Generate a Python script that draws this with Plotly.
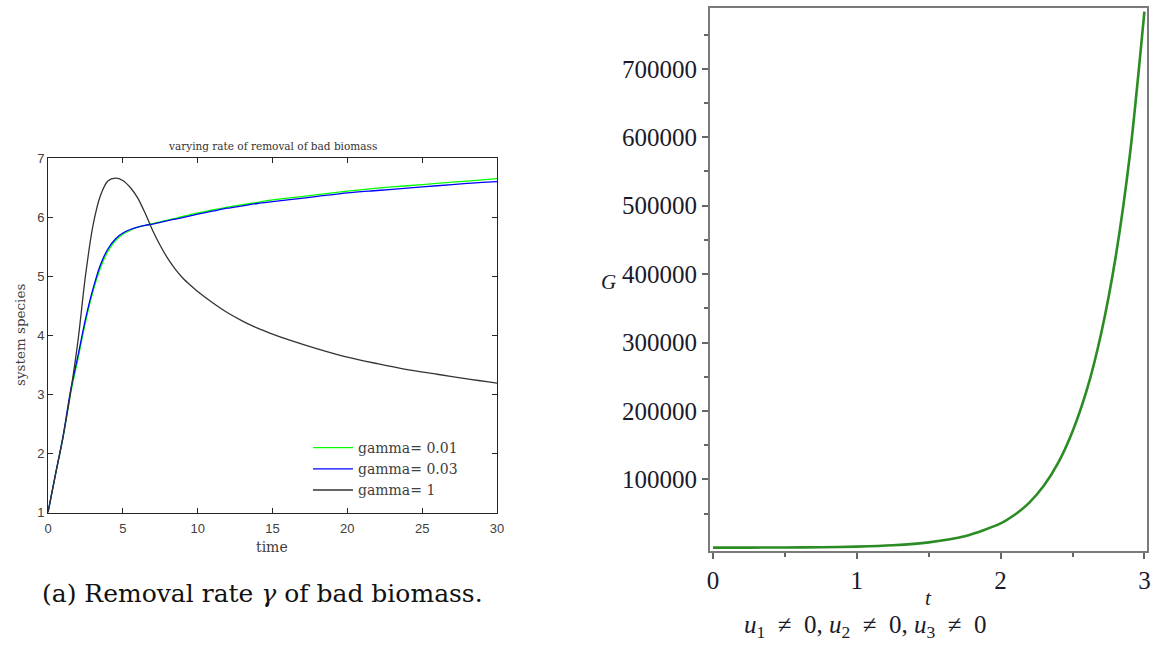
import plotly.graph_objects as go

W, H = 1153, 646

# ---------------- left panel data ----------------
t_left = [0, 0.5, 1, 1.5, 2, 2.5, 3, 3.5, 4, 4.5, 5, 5.5, 6, 6.5, 7, 7.5, 8, 8.5, 9,
          9.5, 10, 11, 12, 13, 14, 15, 16, 18, 20, 22, 24, 26, 28, 30]
gamma_001 = [1.0, 1.64, 2.26, 3.0, 3.6, 4.22, 4.74, 5.14, 5.42, 5.6, 5.71, 5.78, 5.83,
             5.86, 5.89, 5.92, 5.95, 5.98, 6.01, 6.04, 6.07, 6.12, 6.17, 6.21, 6.25,
             6.29, 6.32, 6.38, 6.44, 6.49, 6.53, 6.57, 6.61, 6.65]
gamma_003 = [1.0, 1.65, 2.28, 3.05, 3.65, 4.27, 4.78, 5.19, 5.46, 5.63, 5.73, 5.79, 5.83,
             5.86, 5.88, 5.91, 5.94, 5.965, 5.99, 6.02, 6.05, 6.1, 6.15, 6.19, 6.23,
             6.26, 6.29, 6.35, 6.41, 6.45, 6.49, 6.53, 6.57, 6.6]
gamma_1 = [1.0, 1.64, 2.27, 3.02, 3.9, 5.0, 5.85, 6.36, 6.61, 6.66, 6.62, 6.5, 6.32,
           6.06, 5.77, 5.52, 5.3, 5.12, 4.97, 4.85, 4.74, 4.55, 4.38, 4.24, 4.12, 4.02,
           3.93, 3.77, 3.63, 3.52, 3.42, 3.34, 3.26, 3.19]
legend_names = ["gamma= 0.01", "gamma= 0.03", "gamma= 1"]
left_xticks = [0, 5, 10, 15, 20, 25, 30]
left_yticks = [1, 2, 3, 4, 5, 6, 7]

# ---------------- right panel data ----------------
t_right = [0, 0.25, 0.5, 0.75, 1.0, 1.25, 1.5, 1.75, 2.0, 2.1, 2.2, 2.3, 2.4, 2.5,
           2.6, 2.7, 2.8, 2.9, 3.0]
G_vals = [80, 160, 350, 760, 1650, 3600, 7800, 16700, 35500, 48500, 66000, 90500,
          124000, 170000, 231000, 314000, 425000, 576000, 783600]
right_xticks = [0, 1, 2, 3]
right_xminor = [0.5, 1.5, 2.5]
right_yticks = [100000, 200000, 300000, 400000, 500000, 600000, 700000]
right_yminor = [50000, 150000, 250000, 350000, 450000, 550000, 650000, 750000]


def px(x):
    return x / W


def py(y):
    return 1 - y / H


fig = go.Figure()

left_colors = ["#00ff00", "#0000ff", "#333333"]
for name, vals, col in zip(legend_names, [gamma_001, gamma_003, gamma_1], left_colors):
    fig.add_trace(go.Scatter(x=t_left, y=vals, mode="lines", name=name,
                             line=dict(color=col, width=1.3, shape="spline", smoothing=0.8),
                             xaxis="x", yaxis="y", showlegend=True))

fig.add_trace(go.Scatter(x=t_right, y=G_vals, mode="lines", name="G",
                         line=dict(color="#2a8c22", width=2.6, shape="spline", smoothing=0.8),
                         xaxis="x2", yaxis="y2", showlegend=False))

serif = "DejaVu Serif"
tserif = "Liberation Serif"

fig.update_layout(
    width=W, height=H, autosize=False,
    margin=dict(l=0, r=0, t=0, b=0, pad=0, autoexpand=False),
    paper_bgcolor="white", plot_bgcolor="white",
    xaxis=dict(domain=[px(48), px(497)], range=[0, 30], tickvals=left_xticks,
               showgrid=False, zeroline=False, showline=True, linecolor="#262626",
               linewidth=1, mirror="ticks", ticks="inside", ticklen=5,
               tickcolor="#262626", tickwidth=1, automargin=False,
               ticklabelstandoff=4,
               tickfont=dict(family="Liberation Sans", size=13, color="#404040"),
               anchor="y"),
    yaxis=dict(domain=[py(512.5), py(158)], range=[1, 7], tickvals=left_yticks,
               showgrid=False, zeroline=False, showline=True, linecolor="#262626",
               linewidth=1, mirror="ticks", ticks="inside", ticklen=5,
               tickcolor="#262626", tickwidth=1, automargin=False,
               tickfont=dict(family="Liberation Sans", size=13, color="#404040"),
               anchor="x"),
    xaxis2=dict(domain=[px(710), px(1147)], range=[-0.021, 3.018],
                tickvals=right_xticks, showgrid=False, zeroline=False,
                showline=True, linecolor="#7a7a7a", linewidth=2, mirror=True,
                ticks="outside", ticklen=6, tickwidth=1.5, tickcolor="#666666",
                minor=dict(tickvals=right_xminor, ticks="outside", ticklen=4,
                           tickwidth=1.5, tickcolor="#666666"),
                automargin=False,
                tickfont=dict(family=tserif, size=25, color="#1a1a2a"),
                anchor="y2"),
    yaxis2=dict(domain=[py(551), py(8)], range=[-4800, 789000],
                tickvals=right_yticks, ticktext=[str(v) for v in right_yticks],
                showgrid=False, zeroline=False, showline=True, linecolor="#7a7a7a",
                linewidth=2, mirror=True, ticks="outside", ticklen=6, tickwidth=1.5,
                tickcolor="#666666",
                minor=dict(tickvals=right_yminor, ticks="outside", ticklen=4,
                           tickwidth=1.5, tickcolor="#666666"),
                automargin=False,
                tickfont=dict(family=tserif, size=25, color="#1a1a2a"),
                anchor="x2"),
    legend=dict(x=px(308), y=py(432), xanchor="left", yanchor="top",
                bgcolor="rgba(0,0,0,0)", borderwidth=0, itemwidth=40,
                font=dict(family=serif, size=14, color="#404040"),
                tracegroupgap=0),
    showlegend=True,
)

nb = "&nbsp;"
ann = [
    dict(text="varying rate of removal of bad biomass", x=px(272), y=py(146),
         font=dict(family=serif, size=10.5, color="#333333")),
    dict(text="system species", x=px(20), y=py(335), textangle=-90,
         font=dict(family=serif, size=13.5, color="#404040")),
    dict(text="time", x=px(272), y=py(547),
         font=dict(family=serif, size=14, color="#404040")),
    dict(text="(a) Removal rate <i>γ</i> of bad biomass.", x=px(262), y=py(593),
         font=dict(family=serif, size=25, color="#111111")),
    dict(text="<i>G</i>", x=px(608), y=py(282),
         font=dict(family=tserif, size=21, color="#1a1a2a")),
    dict(text="<i>t</i>", x=px(928), y=py(598),
         font=dict(family=tserif, size=21, color="#1a1a2a")),
    dict(text=("<i>u</i><sub>1</sub>" + nb + " ≠ " + nb + "0, <i>u</i><sub>2</sub>" + nb
               + " ≠ " + nb + "0, <i>u</i><sub>3</sub>" + nb + " ≠ " + nb + "0"),
         x=px(865), y=py(626),
         font=dict(family=tserif, size=25, color="#1a1a2a")),
]
for a in ann:
    a.update(xref="paper", yref="paper", showarrow=False,
             xanchor="center", yanchor="middle")
fig.update_layout(annotations=ann)

fig.write_html("out.html")
